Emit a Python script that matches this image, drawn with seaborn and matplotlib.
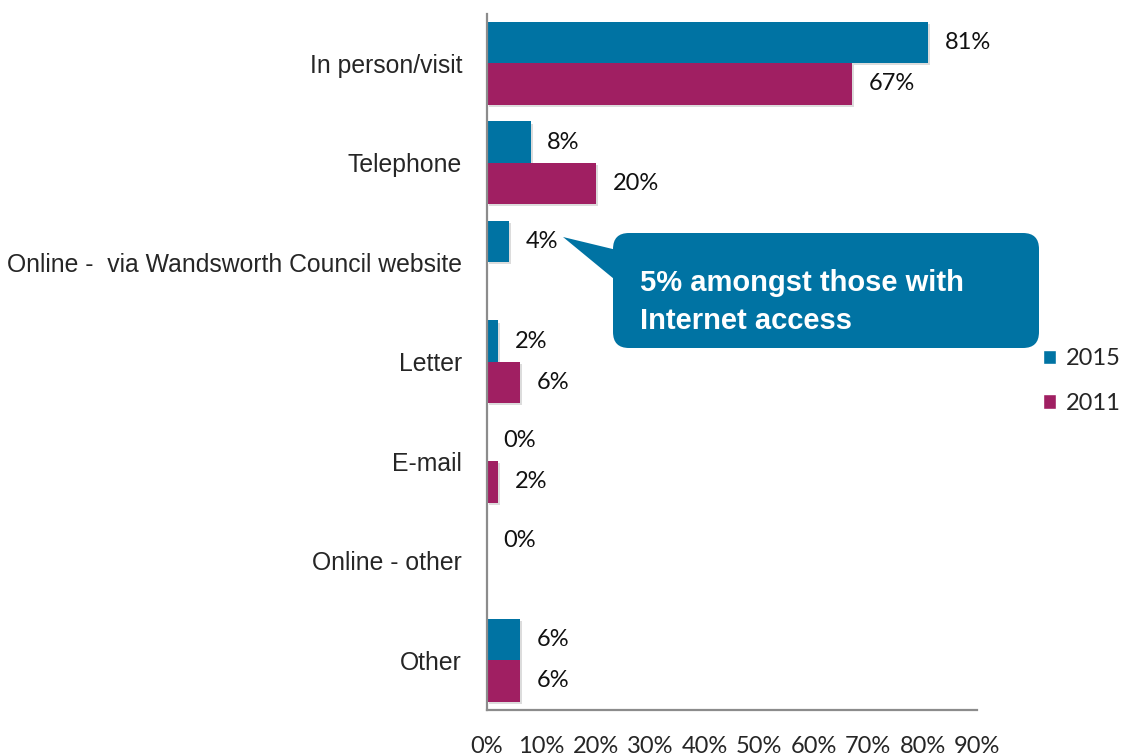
import matplotlib
matplotlib.use("Agg")
import matplotlib.pyplot as plt
import matplotlib.patheffects as pe
from matplotlib.patches import FancyBboxPatch, Polygon, Patch
import numpy as np
import pandas as pd
import seaborn as sns

# Contact channels and shares (percent) by survey year; None = not asked
channels = [
    "In person/visit",
    "Telephone",
    "Online -  via Wandsworth Council website",
    "Letter",
    "E-mail",
    "Online - other",
    "Other",
]
share_2015 = [81, 8, 4, 2, 0, 0, 6]
share_2011 = [67, 20, None, 6, 2, None, 6]
years = ["2015", "2011"]
x_ticks = [0, 10, 20, 30, 40, 50, 60, 70, 80, 90]
callout_text = "5% amongst those with\nInternet access"

blue = "#0073A3"
plum = "#A01F62"
axis_grey = "#8C8C8C"

rows = []
for year, vals in zip(years, [share_2015, share_2011]):
    for ch, v in zip(channels, vals):
        if v is not None:
            rows.append({"channel": ch, "year": year, "pct": v})
df = pd.DataFrame(rows)

sns.set_style("white")
plt.rcParams["font.family"] = ["Liberation Sans", "DejaVu Sans"]

W, H = 1122, 756
fig = plt.figure(figsize=(W / 100, H / 100), dpi=100)
ax = fig.add_axes([487 / W, 1 - 710 / H, (977 - 487) / W, (710 - 13.5) / H])

sns.barplot(
    data=df, y="channel", x="pct", hue="year", hue_order=years,
    order=channels, palette=[blue, plum], width=0.83, orient="h",
    saturation=1, ax=ax, legend=False, errorbar=None,
)

shadow = [pe.SimplePatchShadow(offset=(1.5, -1.5), shadow_rgbFace="#777777", alpha=0.25), pe.Normal()]
for bar in ax.patches:
    bar.set_path_effects(shadow)
    bar.set_linewidth(0)

for cont in ax.containers:
    ax.bar_label(cont, labels=[f"{v:.0f}%" for v in cont.datavalues],
                 padding=12, fontsize=17, family="Lato", color="#111111")

ax.set_xlim(0, 90)
ax.set_xticks(x_ticks)
ax.set_xticklabels([f"{t}%" for t in x_ticks], family="Lato", fontsize=17)
ax.tick_params(axis="x", length=0, pad=19)
ax.tick_params(axis="y", length=0, pad=18, labelsize=17.8)
ax.set_xlabel("")
ax.set_ylabel("")
ax.grid(False)
for side in ["top", "right"]:
    ax.spines[side].set_visible(False)
for side in ["left", "bottom"]:
    ax.spines[side].set_color(axis_grey)
    ax.spines[side].set_linewidth(1.6)

# Overlay in pixel units for the speech-bubble callout
ov = fig.add_axes([0, 0, 1, 1], facecolor="none")
ov.set_xlim(0, W)
ov.set_ylim(H, 0)
ov.axis("off")
ov.add_patch(Polygon([(563, 237), (625, 252), (625, 288)], closed=True,
                     facecolor=blue, edgecolor="none"))
ov.add_patch(FancyBboxPatch((613, 233), 1039 - 613, 348 - 233,
                            boxstyle="round,pad=0,rounding_size=16",
                            facecolor=blue, edgecolor="none"))
ov.text(640, 302, callout_text, color="white", fontsize=21, fontweight="bold",
        va="center", ha="left", linespacing=1.45)

handles = [Patch(facecolor=blue, label=years[0]), Patch(facecolor=plum, label=years[1])]
fig.legend(handles=handles, loc="center left", bbox_to_anchor=(1043 / W, 1 - 381 / H),
           frameon=False, prop={"family": "Lato", "size": 17},
           handlelength=0.55, handleheight=0.55, handletextpad=0.4,
           labelspacing=1.0, borderpad=0, borderaxespad=0)

fig.savefig("out.png", dpi=100)
